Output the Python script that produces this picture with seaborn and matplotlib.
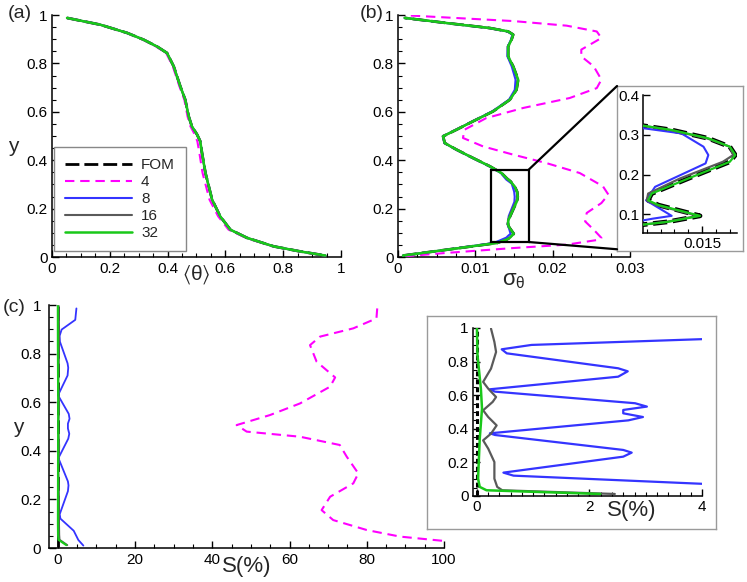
import matplotlib
matplotlib.use('Agg')
import matplotlib.pyplot as plt
import seaborn as sns
from matplotlib.ticker import MultipleLocator, FuncFormatter, FixedLocator
from matplotlib.patches import Rectangle, ConnectionPatch
from matplotlib.lines import Line2D

# ---------------- data ----------------
series_labels = ["FOM", "4", "8", "16", "32"]

# (a) mean temperature profile
y_a = [0.988, 0.96, 0.926, 0.898, 0.87, 0.843, 0.788, 0.705, 0.65, 0.581, 0.54,
       0.506, 0.478, 0.43, 0.347, 0.237, 0.168, 0.113, 0.079, 0.044, 0.023, 0.006]
theta_fom = [0.052, 0.167, 0.26, 0.317, 0.363, 0.398, 0.421, 0.444, 0.461, 0.473, 0.484,
             0.502, 0.513, 0.519, 0.531, 0.554, 0.582, 0.617, 0.675, 0.767, 0.859, 0.946]
theta_4 = [0.052, 0.167, 0.26, 0.316, 0.36, 0.395, 0.418, 0.441, 0.458, 0.469, 0.479,
           0.494, 0.503, 0.510, 0.521, 0.545, 0.575, 0.611, 0.672, 0.765, 0.858, 0.946]

# (b) rms temperature profile
y_b = [0.006, 0.03, 0.058, 0.073, 0.081, 0.096, 0.123, 0.135, 0.152, 0.19, 0.232, 0.249,
       0.27, 0.291, 0.312, 0.324, 0.347, 0.375, 0.409, 0.444, 0.471, 0.499, 0.526, 0.561,
       0.602, 0.65, 0.691, 0.733, 0.788, 0.829, 0.87, 0.898, 0.919, 0.932, 0.946, 0.967, 0.988]
sig_fom = [0.00065, 0.00626, 0.0128, 0.0141, 0.01451, 0.01497, 0.01437, 0.01422, 0.01427,
           0.01480, 0.0154, 0.01548, 0.0154, 0.01509, 0.01456, 0.0141, 0.01338, 0.01187,
           0.00971, 0.00755, 0.00604, 0.00583, 0.00755, 0.00971, 0.0123, 0.01446, 0.01532,
           0.01554, 0.01489, 0.01424, 0.01424, 0.01468, 0.01489, 0.01424, 0.0119, 0.00626, 0.00086]
sig_16 = [0.00065, 0.00626, 0.0128, 0.0141, 0.01449, 0.01494, 0.01434, 0.01420, 0.01422,
          0.01468, 0.0153, 0.01545, 0.0154, 0.01507, 0.01454, 0.0141, 0.01338, 0.01187,
          0.00971, 0.00755, 0.00604, 0.00583, 0.00755, 0.00971, 0.0123, 0.01446, 0.01530,
          0.01550, 0.01487, 0.01424, 0.01424, 0.01466, 0.01487, 0.01424, 0.0119, 0.00626, 0.00086]
y_b8 = [0.006, 0.03, 0.058, 0.08, 0.089, 0.096, 0.135, 0.169, 0.228, 0.249, 0.27, 0.3035,
        0.32, 0.347, 0.375, 0.409, 0.444, 0.471, 0.499, 0.526, 0.561, 0.602, 0.65, 0.691,
        0.733, 0.788, 0.829, 0.87, 0.898, 0.919, 0.932, 0.946, 0.967, 0.988]
sig_8 = [0.00065, 0.00626, 0.0124, 0.0140, 0.01429, 0.01456, 0.01419, 0.01432, 0.01505,
         0.01509, 0.01502, 0.0147, 0.0140, 0.0133, 0.0118, 0.00965, 0.0075, 0.006, 0.0058,
         0.0075, 0.00965, 0.0122, 0.01435, 0.0151, 0.0152, 0.0147, 0.01415, 0.0142, 0.0146,
         0.0148, 0.01415, 0.0118, 0.0062, 0.00086]
y_b4 = [0.003, 0.017, 0.037, 0.051, 0.072, 0.079, 0.113, 0.147, 0.182, 0.223, 0.258, 0.292,
        0.347, 0.388, 0.423, 0.457, 0.492, 0.526, 0.574, 0.616, 0.657, 0.698, 0.733, 0.788,
        0.829, 0.857, 0.905, 0.932, 0.956, 0.975, 0.999]
sig_4 = [0.0009, 0.0063, 0.0149, 0.0218, 0.0261, 0.0263, 0.0253, 0.0242, 0.0244, 0.0263,
         0.0272, 0.0265, 0.0235, 0.0192, 0.0149, 0.0110, 0.0084, 0.0086, 0.0114, 0.0162,
         0.0222, 0.0257, 0.0263, 0.0253, 0.0237, 0.0237, 0.0263, 0.0257, 0.0218, 0.0149, 0.0009]
zoom_x = [0.012, 0.0169]
zoom_y = [0.062, 0.361]

# (c) relative error S(%)
y_cfom = [0.005, 0.995]
s_fom = [0.0, 0.0]
y_c4 = [0.986, 0.945, 0.904, 0.87, 0.835, 0.767, 0.702, 0.664, 0.595, 0.547, 0.506, 0.479,
        0.458, 0.424, 0.376, 0.307, 0.266, 0.211, 0.156, 0.115, 0.074, 0.047, 0.029]
s_4 = [82.7, 82.5, 76.5, 67.9, 65.3, 67.0, 71.8, 70.5, 62.7, 54.9, 46.3, 48.9, 62.7, 73.0,
       74.8, 77.8, 76.5, 70.5, 68.3, 71.3, 80.0, 88.6, 100.0]
y_c8 = [0.986, 0.939, 0.899, 0.873, 0.849, 0.76, 0.742, 0.71, 0.635, 0.621, 0.552, 0.532,
        0.512, 0.492, 0.470, 0.450, 0.373, 0.363, 0.274, 0.258, 0.234, 0.139, 0.121, 0.071,
        0.033, 0.010]
s_8 = [4.8, 4.5, 0.97, 0.44, 0.53, 2.51, 2.68, 2.51, 0.23, 0.32, 2.81, 3.02, 2.6, 2.6, 2.95,
       2.69, 0.23, 0.32, 2.6, 2.75, 2.6, 0.47, 0.65, 4.1, 5.3, 6.6]
y_c16 = [0.996, 0.917, 0.857, 0.758, 0.679, 0.639, 0.589, 0.56, 0.51, 0.47, 0.42, 0.371,
         0.331, 0.282, 0.202, 0.103, 0.054, 0.034, 0.012]
s_16 = [0.25, 0.31, 0.34, 0.25, 0.11, 0.2, 0.34, 0.28, 0.11, 0.2, 0.35, 0.25, 0.11, 0.2,
        0.31, 0.31, 0.36, 0.45, 2.45]
y_c32 = [0.996, 0.837, 0.639, 0.52, 0.341, 0.103, 0.054, 0.034, 0.012]
s_32 = [0.0, 0.01, 0.07, 0.09, 0.05, 0.02, 0.05, 0.17, 2.19]

# ---------------- style ----------------
sns.set_theme(style='white')
plt.rcParams['font.family'] = ['Liberation Sans', 'DejaVu Sans']
plt.rcParams['mathtext.fontset'] = 'custom'
plt.rcParams['mathtext.rm'] = 'Liberation Sans'
plt.rcParams['mathtext.it'] = 'Liberation Sans'
plt.rcParams['mathtext.default'] = 'regular'

C_FOM, C4, C8, C16, C32 = 'black', '#ff00ff', '#3434ff', '#5a5a5a', '#19c819'
DASH_FOM = (0, (5, 1.8))
DASH_4 = (0, (4.5, 2.8))
TICK_FS = 11

fig = plt.figure(figsize=(7.47, 5.82), dpi=100)


def curve(ax, x, y, color, lw, ls='-', z=2):
    sns.lineplot(x=x, y=y, ax=ax, sort=False, estimator=None, color=color,
                 linewidth=lw, linestyle=ls, zorder=z)


def fmt(v, p):
    return '%g' % round(v, 6)


def style_axes(ax, xmaj, xmin, ymaj, ymin, ypad=3, xpad=3.6, fs=TICK_FS):
    for s in ['top', 'right']:
        ax.spines[s].set_visible(False)
    for s in ['left', 'bottom']:
        ax.spines[s].set_color('black')
        ax.spines[s].set_linewidth(1.1)
    if xmaj is not None:
        ax.xaxis.set_major_locator(xmaj)
    if xmin is not None:
        ax.xaxis.set_minor_locator(xmin)
    if ymaj is not None:
        ax.yaxis.set_major_locator(ymaj)
    if ymin is not None:
        ax.yaxis.set_minor_locator(ymin)
    ax.xaxis.set_major_formatter(FuncFormatter(fmt))
    ax.yaxis.set_major_formatter(FuncFormatter(fmt))
    ax.tick_params(which='both', direction='in', top=False, right=False,
                   left=True, bottom=True, colors='black', labelsize=fs)
    ax.tick_params(which='major', length=5, width=1)
    ax.tick_params(which='minor', length=2.8, width=0.8)
    ax.tick_params(axis='y', which='major', pad=ypad)
    ax.tick_params(axis='x', which='major', pad=xpad)
    ax.set_xlabel('')
    ax.set_ylabel('')
    ax.grid(False)


# ---------------- (a) ----------------
ax_a = fig.add_axes([0.0696, 0.5584, 0.3869, 0.4158])
curve(ax_a, theta_fom, y_a, C_FOM, 2.0, DASH_FOM, 2)
curve(ax_a, theta_4, y_a, C4, 1.5, DASH_4, 3)
curve(ax_a, theta_fom, y_a, C8, 1.5, '-', 4)
curve(ax_a, theta_fom, y_a, C16, 1.5, '-', 5)
curve(ax_a, theta_fom, y_a, C32, 1.8, '-', 6)
ax_a.set_xlim(0, 1)
ax_a.set_ylim(0, 1)
style_axes(ax_a, MultipleLocator(0.2), MultipleLocator(0.05),
           MultipleLocator(0.2), MultipleLocator(0.05))
ax_a.set_xlabel(r'$\langle\theta\rangle$', fontsize=15)
ax_a.xaxis.set_label_coords(0.5, -0.074)
ax_a.xaxis.label.set_va('center')
ax_a.set_ylabel('y', fontsize=15, rotation=0)
ax_a.yaxis.set_label_coords(-0.135, 0.455)
ax_a.yaxis.label.set_va('center')
handles = [Line2D([], [], color=C_FOM, lw=2.0, ls=DASH_FOM),
           Line2D([], [], color=C4, lw=1.5, ls=DASH_4),
           Line2D([], [], color=C8, lw=1.5),
           Line2D([], [], color=C16, lw=1.5),
           Line2D([], [], color=C32, lw=1.8)]
leg = ax_a.legend(handles, series_labels, loc='lower left', bbox_to_anchor=(0.007, 0.025),
                  borderaxespad=0, fancybox=False, frameon=True, fontsize=11,
                  handlelength=4.4, handletextpad=0.6, labelspacing=0.2, borderpad=0.7)
leg.get_frame().set_edgecolor('#888888')
leg.get_frame().set_linewidth(1.0)
leg.get_frame().set_alpha(1)

# ---------------- (b) ----------------
ax_b = fig.add_axes([0.5328, 0.5584, 0.3106, 0.4158])
curve(ax_b, sig_fom, y_b, C_FOM, 2.0, DASH_FOM, 2)
curve(ax_b, sig_4, y_b4, C4, 1.5, DASH_4, 3)
curve(ax_b, sig_8, y_b8, C8, 1.5, '-', 4)
curve(ax_b, sig_16, y_b, C16, 1.5, '-', 5)
curve(ax_b, sig_fom, y_b, C32, 1.8, '-', 6)
ax_b.set_xlim(0, 0.03)
ax_b.set_ylim(0, 1)
style_axes(ax_b, MultipleLocator(0.01), MultipleLocator(0.0025),
           MultipleLocator(0.2), MultipleLocator(0.05))
ax_b.set_xlabel(r'$\sigma_{\theta}$', fontsize=16)
ax_b.xaxis.set_label_coords(0.5, -0.095)
ax_b.xaxis.label.set_va('center')
ax_b.add_patch(Rectangle((zoom_x[0], zoom_y[0]), zoom_x[1] - zoom_x[0], zoom_y[1] - zoom_y[0],
                         fill=False, edgecolor='black', lw=1.6, zorder=8))

# inset frame (b)
fb = [0.826, 0.5687, 0.1687, 0.2835]
ax_fb = fig.add_axes(fb, zorder=5)
ax_fb.set_xticks([]); ax_fb.set_yticks([])
for s in ax_fb.spines.values():
    s.set_color('#9a9a9a'); s.set_linewidth(1.0); s.set_visible(True)
ax_fb.set_facecolor('white')

ax_bi = fig.add_axes([0.8612, 0.5991, 0.125, 0.2376], zorder=6)
curve(ax_bi, sig_fom, y_b, C_FOM, 3.4, (0, (3, 1.2)), 2)
curve(ax_bi, sig_4, y_b4, C4, 1.5, DASH_4, 3)
curve(ax_bi, sig_8, y_b8, C8, 1.5, '-', 4)
curve(ax_bi, sig_16, y_b, C16, 1.6, '-', 5)
curve(ax_bi, sig_fom, y_b, C32, 1.6, '-', 6)
ax_bi.set_xlim(0.01415, 0.0155)
ax_bi.set_ylim(0.052, 0.4)
style_axes(ax_bi, FixedLocator([0.015]), MultipleLocator(0.0002),
           MultipleLocator(0.1), None, ypad=2.5, xpad=3)
ax_bi.set_facecolor('none')

for yA, yB in [(zoom_y[1], fb[1] + fb[3]), (zoom_y[0], fb[1] + 0.003)]:
    con = ConnectionPatch(xyA=(zoom_x[1], yA), coordsA=ax_b.transData,
                          xyB=(fb[0], yB), coordsB=fig.transFigure,
                          color='black', lw=1.6, zorder=9)
    fig.add_artist(con)

# ---------------- (c) ----------------
ax_c = fig.add_axes([0.0656, 0.0584, 0.5288, 0.4175])
curve(ax_c, s_fom, y_cfom, C_FOM, 2.0, DASH_FOM, 2)
curve(ax_c, s_4, y_c4, C4, 1.5, DASH_4, 3)
curve(ax_c, s_8, y_c8, C8, 1.3, '-', 4)
curve(ax_c, s_16, y_c16, C16, 1.3, '-', 5)
curve(ax_c, s_32, y_c32, C32, 1.6, '-', 6)
ax_c.set_xlim(-2.3, 100)
ax_c.set_ylim(0, 1)
style_axes(ax_c, MultipleLocator(20), MultipleLocator(5),
           MultipleLocator(0.2), MultipleLocator(0.05), ypad=5.5, xpad=3.8)
ax_c.set_xlabel('S(%)', fontsize=16)
ax_c.xaxis.set_label_coords(0.5, -0.078)
ax_c.xaxis.label.set_va('center')
ax_c.set_ylabel('y', fontsize=15, rotation=0)
ax_c.yaxis.set_label_coords(-0.078, 0.494)
ax_c.yaxis.label.set_va('center')

# inset frame (c)
fc = [0.5716, 0.0911, 0.3869, 0.366]
ax_fc = fig.add_axes(fc, zorder=5)
ax_fc.set_xticks([]); ax_fc.set_yticks([])
for s in ax_fc.spines.values():
    s.set_color('#9a9a9a'); s.set_linewidth(1.0); s.set_visible(True)
ax_fc.set_facecolor('white')

ax_ci = fig.add_axes([0.6332, 0.1478, 0.3066, 0.2887], zorder=6)
curve(ax_ci, s_fom, y_cfom, C_FOM, 2.2, (0, (1.6, 1.0)), 2)
curve(ax_ci, s_4, y_c4, C4, 1.5, DASH_4, 3)
curve(ax_ci, s_8, y_c8, C8, 1.6, '-', 4)
curve(ax_ci, s_16, y_c16, C16, 1.6, '-', 5)
curve(ax_ci, s_32, y_c32, C32, 1.8, '-', 6)
ax_ci.set_xlim(-0.07, 4)
ax_ci.set_ylim(0, 1)
style_axes(ax_ci, MultipleLocator(2), MultipleLocator(0.2),
           MultipleLocator(0.2), MultipleLocator(0.05), ypad=3, xpad=3)
ax_ci.set_facecolor('none')
ax_ci.set_xlabel('S(%)', fontsize=16)
ax_ci.xaxis.set_label_coords(0.694, -0.085)
ax_ci.xaxis.label.set_va('center')

# panel labels
fig.text(20 / 747, 1 - 14 / 582, '(a)', fontsize=14, ha='center', va='center')
fig.text(372 / 747, 1 - 14 / 582, '(b)', fontsize=14, ha='center', va='center')
fig.text(14 / 747, 1 - 307 / 582, '(c)', fontsize=14, ha='center', va='center')

fig.savefig('out.png', dpi=100)
